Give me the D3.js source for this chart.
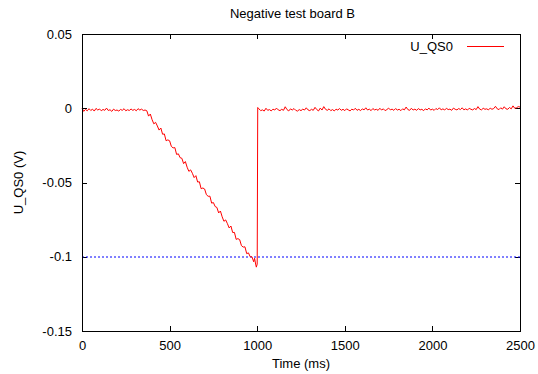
<!DOCTYPE html>
<html>
<head>
<meta charset="utf-8">
<script src="https://cdn.jsdelivr.net/npm/d3@7"></script>
<style>
  html, body { margin: 0; padding: 0; background: #fff; }
  svg { display: block; font-family: "Liberation Sans", Arial, Helvetica, sans-serif; }
</style>
</head>
<body>
<svg id="chart" width="538" height="374"></svg>
<script>
// ---- data ----
const chartTitle = "Negative test board B";
const xLabel = "Time (ms)";
const yLabel = "U_QS0 (V)";
const seriesName = "U_QS0";
const xTicks = [0, 500, 1000, 1500, 2000, 2500];
const yTicks = [0.05, 0, -0.05, -0.1, -0.15];
const yTickLabels = ["0.05", "0", "-0.05", "-0.1", "-0.15"];
const refLevel = -0.1;

// time stamps (ms)
const timeMs = [
  0,10,20,30,40,50,60,70,80,90,100,110,120,130,140,150,160,170,180,190,
  200,210,220,230,240,250,260,270,280,290,300,310,320,330,340,350,360,
  370,380,390,400,410,420,430,440,450,460,470,480,490,500,510,520,530,540,550,
  560,570,580,590,600,610,620,630,640,650,660,670,680,690,700,710,720,730,740,
  750,760,770,780,790,800,810,820,830,840,850,860,870,880,890,900,910,920,930,
  940,950,960,970,980,985,990,995,1000,1003,
  1010,1020,1030,1040,1050,1060,1070,1080,1090,1100,1110,1120,1130,1140,1150,
  1160,1170,1180,1190,1200,1210,1220,1230,1240,1250,1260,1270,1280,1290,1300,
  1310,1320,1330,1340,1350,1360,1370,1380,1390,1400,1410,1420,1430,1440,1450,
  1460,1470,1480,1490,1500,1510,1520,1530,1540,1550,1560,1570,1580,1590,1600,
  1610,1620,1630,1640,1650,1660,1670,1680,1690,1700,1710,1720,1730,1740,1750,
  1760,1770,1780,1790,1800,1810,1820,1830,1840,1850,1860,1870,1880,1890,1900,
  1910,1920,1930,1940,1950,1960,1970,1980,1990,2000,2010,2020,2030,2040,2050,
  2060,2070,2080,2090,2100,2110,2120,2130,2140,2150,2160,2170,2180,2190,2200,
  2210,2220,2230,2240,2250,2260,2270,2280,2290,2300,2310,2320,2330,2340,2350,
  2360,2370,2380,2390,2400,2410,2420,2430,2440,2450,2460,2470,2480,2490,2500
];
// measured voltage (mV)
const uqs0_mV = [
  0.1,-2.1,-0.8,-1.7,-0.3,-1.5,-0.6,-1.9,-0.1,-1.2,-0.5,-1.7,-0.8,-1.4,0.1,-1.5,-1.0,-2.1,-0.6,-1.5,
  -1.2,-1.9,-0.8,-1.4,-0.3,-1.7,-1.0,-1.5,-0.5,-1.4,-0.8,-1.7,-0.3,-1.2,-0.6,-1.5,-1.2,
  -1.7,-5.3,-3.9,-7.7,-10.5,-9.5,-11.9,-14.7,-13.3,-17.5,-17.3,-21.9,-21.3,-21.9,-25.7,-26.7,-26.5,-31.1,-30.7,
  -33.3,-33.7,-37.3,-35.9,-39.7,-42.5,-41.5,-43.8,-46.7,-45.4,-49.7,-49.5,-54.2,-53.7,-54.4,-58.2,-59.3,-59.2,-63.9,
  -63.5,-66.2,-66.8,-70.5,-69.2,-73.1,-76.1,-75.2,-77.7,-80.6,-79.3,-83.7,-83.6,-88.3,-87.8,-88.5,-92.5,-93.5,-93.3,
  -97.9,-97.4,-100.0,-100.0,-103.4,-101.0,-104.2,-107.0,-105.0,0.5,
  -0.4,-1.6,-1.1,-1.9,0.0,-1.4,-0.9,-1.8,-0.6,-1.2,0.1,-1.1,-1.6,-0.7,-1.4,
  1.0,-0.9,-1.8,-0.4,-1.2,-0.2,-1.4,-1.9,-0.9,-1.6,-0.6,-1.2,0.3,-1.1,-1.6,
  -0.7,-1.4,0.6,-0.9,-1.8,0.1,-1.2,1.1,-0.7,-1.4,-0.4,-1.6,-0.9,-1.8,-0.6,
  -1.2,-0.2,-1.4,-0.7,-1.6,-0.4,-1.1,-1.8,-0.6,-1.2,0.0,-1.4,-0.7,-1.6,-0.4,
  -1.1,0.3,-1.2,-0.6,-1.6,-0.2,-1.1,-0.7,-1.4,0.0,-1.2,-0.4,-1.6,-0.9,0.1,
  -1.1,-0.6,-1.4,-0.2,-1.2,-0.7,-1.6,-0.4,-1.1,0.8,-0.9,-1.4,0.0,-1.2,-0.6,
  -1.4,-0.2,-1.1,-0.7,-1.6,-0.4,-1.1,0.1,-1.2,-0.6,-1.4,-0.2,-0.9,0.3,-1.1,
  -0.4,-1.2,0.0,-0.9,-0.6,-1.4,0.1,-0.7,-1.1,-0.2,-0.9,0.3,-1.1,-0.4,-1.2,
  0.0,-0.7,-1.1,-0.2,-0.9,1.1,-0.6,-1.1,0.0,-0.7,-0.4,-1.1,0.1,-0.7,-0.2,
  1.3,-0.4,-0.9,0.3,-0.6,1.0,-0.4,-0.7,0.5,-0.4,1.6,0.0,0.3,1.1,0.8
];

// ---- drawing ----
const W = 538, H = 374;
const margin = { left: 82, right: 18, top: 34, bottom: 43 };
const pw = W - margin.left - margin.right; // 438
const ph = H - margin.top - margin.bottom; // 297

const svg = d3.select("#chart");
const g = svg.append("g").attr("transform", `translate(${margin.left},${margin.top})`);

const x = d3.scaleLinear().domain([0, 2500]).range([0, pw]);
const y = d3.scaleLinear().domain([-0.15, 0.05]).range([ph, 0]);

const data = timeMs.map((t, i) => ({ t, v: uqs0_mV[i] / 1000 }));

const fontSize = 13;
const tickLen = 5;
const fmtY = d => yTickLabels[yTicks.indexOf(d)];

function styleAxis(sel, hideText) {
  sel.select(".domain").remove();
  sel.selectAll(".tick line").attr("stroke", "#000").attr("shape-rendering", "crispEdges");
  sel.selectAll(".tick text").attr("fill", "#000").style("font-size", fontSize + "px");
  if (hideText) sel.selectAll(".tick text").remove();
}

// bottom axis
g.append("g").attr("transform", `translate(0,${ph})`)
  .call(d3.axisBottom(x).tickValues(xTicks).tickSize(-tickLen).tickPadding(10).tickFormat(d3.format("d")))
  .call(s => styleAxis(s, false));
// top mirror
g.append("g")
  .call(d3.axisTop(x).tickValues(xTicks).tickSize(-tickLen))
  .call(s => styleAxis(s, true));
// left axis
g.append("g")
  .call(d3.axisLeft(y).tickValues(yTicks).tickSize(-tickLen).tickPadding(10).tickFormat(fmtY))
  .call(s => styleAxis(s, false));
// right mirror
g.append("g").attr("transform", `translate(${pw},0)`)
  .call(d3.axisRight(y).tickValues(yTicks).tickSize(-tickLen))
  .call(s => styleAxis(s, true));

// reference level (dotted blue)
g.append("line")
  .attr("x1", x(0)).attr("x2", x(2500))
  .attr("y1", Math.round(y(refLevel))).attr("y2", Math.round(y(refLevel)))
  .attr("stroke", "#0000ff").attr("stroke-width", 1)
  .attr("stroke-dasharray", "2,2");

// data line
const line = d3.line().x(d => x(d.t)).y(d => y(d.v));
g.append("path").datum(data)
  .attr("d", line)
  .attr("fill", "none")
  .attr("stroke", "#ff0000")
  .attr("stroke-width", 1)
  .attr("stroke-linejoin", "round");

// frame
g.append("rect")
  .attr("x", 0.5).attr("y", 0.5).attr("width", pw).attr("height", ph)
  .attr("fill", "none").attr("stroke", "#000").attr("stroke-width", 1)
  .attr("shape-rendering", "crispEdges");

// legend
const lgY = 46;
svg.append("text")
  .attr("x", 453).attr("y", lgY).attr("dy", "0.35em")
  .attr("text-anchor", "end").style("font-size", fontSize + "px")
  .text(seriesName);
svg.append("line")
  .attr("x1", 467).attr("x2", 504).attr("y1", lgY + 0.5).attr("y2", lgY + 0.5)
  .attr("stroke", "#ff0000").attr("stroke-width", 1);

// title
svg.append("text")
  .attr("x", 292.5).attr("y", 18)
  .attr("text-anchor", "middle").style("font-size", fontSize + "px")
  .text(chartTitle);

// x label
svg.append("text")
  .attr("x", margin.left + pw / 2).attr("y", 368)
  .attr("text-anchor", "middle").style("font-size", fontSize + "px")
  .text(xLabel);

// y label
svg.append("text")
  .attr("transform", `translate(23,${margin.top + ph / 2}) rotate(-90)`)
  .attr("text-anchor", "middle").style("font-size", fontSize + "px")
  .text(yLabel);
</script>
</body>
</html>
